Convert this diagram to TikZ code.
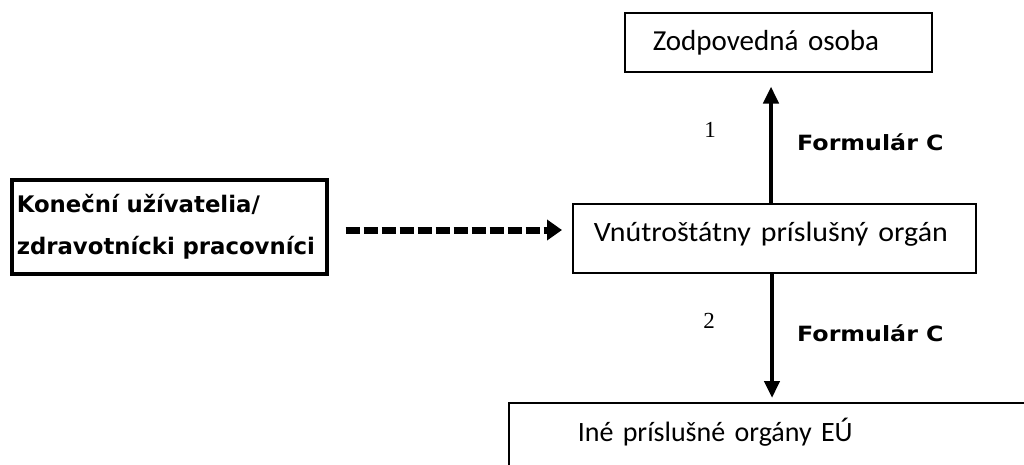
\documentclass[tikz,border=0pt]{standalone}
\usepackage{fontspec}
\setmainfont{Carlito}
\newfontfamily\heavyfont{DejaVu Sans Bold}
\newfontfamily\numfont{Liberation Serif}
\usetikzlibrary{arrows.meta,shadows}
\begin{document}
\begin{tikzpicture}[x=1pt,y=-1pt,
  box/.style={draw, line width=1.5pt, fill=white,
    drop shadow={opacity=1, fill=black, shadow xshift=1.5pt, shadow yshift=-1.5pt},
    inner ysep=0pt, anchor=north west, align=left,
    text height=18pt, text depth=0pt,
    font=\fontsize{28}{32}\selectfont},
  heavybox/.style={draw, line width=3.5pt, fill=white, inner ysep=0pt,
    anchor=north west, align=left,
    font=\heavyfont\fontsize{22.8}{42}\selectfont},
  conn/.style={line width=4.5pt, -{Triangle[width=15pt,length=17pt]}},
  dashconn/.style={line width=7pt, dash pattern=on 14pt off 4pt,
    -{Triangle[width=20pt,length=15pt]}},
  num/.style={font=\numfont\fontsize{23}{26}\selectfont, inner sep=0pt},
  lab/.style={font=\heavyfont\fontsize{21}{24}\selectfont, inner sep=0pt, anchor=west}
]
\useasboundingbox (0,0) rectangle (1024,464);
\clip (0,0) rectangle (1024,464);
\fill[white] (0,0) rectangle (1024,464);

\node[box, minimum width=307pt, minimum height=59pt, text width=251pt, inner xsep=28pt,
  font=\fontsize{29}{32}\selectfont, text height=16pt]
  (zo) at (624,12) {Zodpovedná osoba};
\node[box, minimum width=403pt, minimum height=69pt, text width=361pt, inner xsep=21pt,
  text height=15pt, text depth=9pt]
  (mid) at (572,203) {\scalebox{1.068}[1]{Vnútroštátny príslušný orgán}};
\node[box, minimum width=540pt, minimum height=66pt, text width=402pt, inner xsep=69pt,
  text height=12pt]
  (eu) at (508,402) {Iné príslušné orgány EÚ};
\node[heavybox, minimum width=315pt, minimum height=94pt, text width=305pt, inner xsep=5pt]
  (lb) at (10,178) {Koneční užívatelia/\\zdravotnícki pracovníci};

\node[num] (n1) at (710,130) {1};
\node[num] (n2) at (709,321) {2};
\node[lab] (f1) at (797,142) {\scalebox{1.13}[1]{Formulár C}};
\node[lab] (f2) at (797,333) {\scalebox{1.13}[1]{Formulár C}};

\coordinate (ux) at (771,0);
\coordinate (dx) at (772,0);
\coordinate (dy) at (0,230);
\draw[conn, shorten >=14pt] (mid.north -| ux) -- (zo.south -| ux);
\draw[conn, shorten >=4pt] (mid.south -| dx) -- (eu.north -| dx);
\draw[dashconn, shorten <=17pt, shorten >=10pt] (lb.east |- dy) -- (mid.west |- dy);
\end{tikzpicture}
\end{document}
